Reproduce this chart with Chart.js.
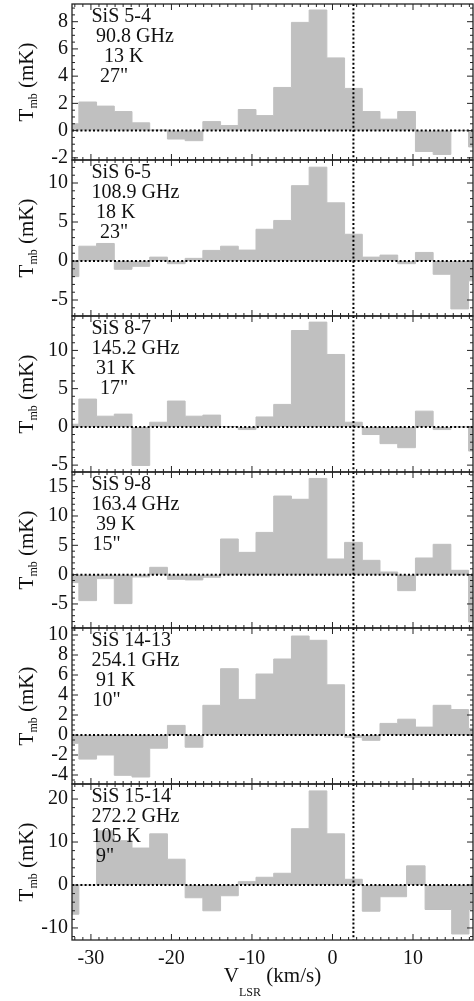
<!DOCTYPE html>
<html>
<head>
<meta charset="utf-8">
<title>SiS spectra</title>
<script src="https://cdn.jsdelivr.net/npm/chart.js@4.4.1/dist/chart.umd.min.js"></script>
<style>
    html, body { margin: 0; padding: 0; background: #fff; }
    #wrap { position: relative; width: 474px; height: 1001px; overflow: hidden; }
    #wrap canvas { position: absolute; left: 0; }
</style>
</head>
<body>
<div id="wrap"></div>
<script>
// channel edges (km/s), shared by the first five lines
const velEdges = [-33.7, -31.5, -29.3, -27.1, -24.9, -22.7, -20.5, -18.3, -16.1, -13.9, -11.7, -9.5, -7.3, -5.1, -2.9, -0.7, 1.5, 3.7, 5.9, 8.1, 10.3, 12.5, 14.7, 16.9, 19.1];
// SiS 15-14 grid is irregular on the red side
const velEdges15 = [-33.7, -31.5, -29.3, -27.1, -24.9, -22.7, -20.5, -18.3, -16.1, -13.9, -11.7, -9.5, -7.3, -5.1, -2.9, -0.7, 1.5, 3.7, 5.9, 9.2, 11.5, 14.8, 16.95, 17.25, 19.1];

// Tmb (mK) per channel
const tmb54 = [0.5, 2.1, 1.8, 1.4, 0.57, 0.05, -0.62, -0.74, 0.66, 0.37, 1.55, 1.1, 3.17, 7.95, 8.86, 5.34, 3.1, 1.4, 0.84, 1.4, -1.53, -1.75, 0.0, -1.2];
const tmb65 = [-2.0, 1.9, 2.25, -1.06, -0.68, 0.5, -0.34, 0.34, 1.36, 1.9, 1.4, 4.07, 5.2, 9.66, 12.03, 7.46, 3.43, 0.5, 0.76, -0.34, 1.1, -1.7, -6.14, -2.54];
const tmb87 = [0.35, 3.64, 1.4, 1.67, -5.04, 0.61, 3.38, 1.4, 1.54, 0.05, -0.35, 1.3, 2.94, 12.6, 13.7, 9.47, 0.61, -1.0, -2.19, -2.72, 2.06, -0.35, 0.0, -3.16];
const tmb98 = [-1.36, -4.43, -0.68, -4.94, -0.4, 1.25, -0.8, -0.9, -0.45, 6.08, 3.8, 7.2, 13.4, 12.85, 16.4, 2.67, 5.5, 2.44, 0.45, -2.73, 2.84, 5.17, 0.74, -8.07];
const tmb1413 = [-0.83, -2.41, -2.0, -4.03, -4.2, -1.32, 0.96, -1.22, 2.97, 6.63, 3.56, 6.1, 7.6, 9.9, 9.47, 5.02, -0.23, -0.53, 1.16, 1.58, 0.79, 2.97, 2.54, 0.66];
const tmb1514 = [-6.8, 0.0, 12.6, 10.3, 8.6, 11.9, 6.0, -2.97, -6.0, -2.5, 0.78, 1.8, 2.73, 13.1, 21.9, 11.9, 1.33, -6.1, -2.73, 4.45, -5.7, -11.4, -5.7, 2.1];

// axis ticks
const xTicks = [-30, -20, -10, 0, 10];
const yTicks54 = [-2, 0, 2, 4, 6, 8];
const yTicks65 = [-5, 0, 5, 10];
const yTicks87 = [-5, 0, 5, 10];
const yTicks98 = [-5, 0, 5, 10, 15];
const yTicks1413 = [-4, -2, 0, 2, 4, 6, 8, 10];
const yTicks1514 = [-10, 0, 10, 20];

// labels
const lab54 = ['SiS 5-4', '90.8 GHz', '13 K', '27"'];
const lab65 = ['SiS 6-5', '108.9 GHz', '18 K', '23"'];
const lab87 = ['SiS 8-7', '145.2 GHz', '31 K', '17"'];
const lab98 = ['SiS 9-8', '163.4 GHz', '39 K', '15"'];
const lab1413 = ['SiS 14-13', '254.1 GHz', '91 K', '10"'];
const lab1514 = ['SiS 15-14', '272.2 GHz', '105 K', '9"'];

const vSys = 2.6;
const xMin = -32.35, xMax = 17.45;

const FONT = "'Liberation Serif', 'DejaVu Serif', serif";
const GRAY = '#c0c0c0';
const INK = '#111';

const panels = [
    { edges: velEdges, vals: tmb54, ticks: yTicks54, labels: lab54, min: -2.16, max: 9.3, minor: 0.5, lx: [91.5, 96, 104, 100] },
    { edges: velEdges, vals: tmb65, ticks: yTicks65, labels: lab65, min: -7.05, max: 12.95, minor: 1, lx: [91.5, 91.5, 96, 100] },
    { edges: velEdges, vals: tmb87, ticks: yTicks87, labels: lab87, min: -5.9, max: 14.5, minor: 1, lx: [91.5, 91.5, 96, 100] },
    { edges: velEdges, vals: tmb98, ticks: yTicks98, labels: lab98, min: -9.1, max: 17.5, minor: 1, lx: [91.5, 91.5, 96, 92.5] },
    { edges: velEdges, vals: tmb1413, ticks: yTicks1413, labels: lab1413, min: -4.9, max: 10.7, minor: 0.5, lx: [91.5, 91.5, 96, 92.5] },
    { edges: velEdges15, vals: tmb1514, ticks: yTicks1514, labels: lab1514, min: -12.8, max: 23.5, minor: 2, lx: [91.5, 91.5, 91.5, 96] }
];

const PANEL_H = 156;
const TOP0 = 4;
const LEFT = 72;
const PAD = 12;   // canvases overlap so edge labels are not clipped

// frame, inward ticks, dotted guides, annotations
const framePlugin = {
    id: 'frame',
    afterDatasetsDraw(chart) {
        const p = chart.options.plugins.frame.panel;
        const { ctx, chartArea: a, scales: { x, y } } = chart;
        ctx.save();

        // dotted zero line + systemic velocity
        ctx.strokeStyle = '#000';
        ctx.lineWidth = 2;
        ctx.setLineDash([2, 2.2]);
        const y0 = y.getPixelForValue(0);
        ctx.beginPath(); ctx.moveTo(a.left, y0); ctx.lineTo(a.right, y0); ctx.stroke();
        const xs = x.getPixelForValue(vSys);
        ctx.beginPath(); ctx.moveTo(xs, a.top); ctx.lineTo(xs, a.bottom); ctx.stroke();
        ctx.setLineDash([]);

        // frame
        ctx.strokeStyle = '#222';
        ctx.lineWidth = 1.3;
        ctx.strokeRect(a.left, a.top, a.right - a.left, a.bottom - a.top);

        // x ticks (major + 1 km/s minor), top and bottom
        ctx.lineWidth = 1;
        ctx.beginPath();
        for (let v = Math.ceil(xMin); v <= xMax; v++) {
            const len = xTicks.includes(v) ? 6 : 3;
            const px = x.getPixelForValue(v);
            ctx.moveTo(px, a.top); ctx.lineTo(px, a.top + len);
            ctx.moveTo(px, a.bottom); ctx.lineTo(px, a.bottom - len);
        }
        // y ticks, left and right
        const n0 = Math.ceil(p.min / p.minor), n1 = Math.floor(p.max / p.minor);
        for (let k = n0; k <= n1; k++) {
            const v = k * p.minor;
            const len = p.ticks.some(t => Math.abs(t - v) < 1e-6) ? 6 : 3;
            const py = y.getPixelForValue(v);
            ctx.moveTo(a.left, py); ctx.lineTo(a.left + len, py);
            ctx.moveTo(a.right, py); ctx.lineTo(a.right - len, py);
        }
        ctx.stroke();

        // line annotation
        ctx.fillStyle = INK;
        ctx.font = '20px ' + FONT;
        ctx.textBaseline = 'middle';
        ctx.textAlign = 'left';
        const offs = [13, 32.5, 52.5, 72.5];
        p.labels.forEach((t, i) => ctx.fillText(t, p.lx[i], a.top + offs[i]));

        // y title: T_mb (mK)
        const cy = (a.top + a.bottom) / 2;
        ctx.translate(33, cy);
        ctx.rotate(-Math.PI / 2);
        ctx.textBaseline = 'alphabetic';
        ctx.font = '21px ' + FONT;
        const wT = ctx.measureText('T').width;
        const wR = ctx.measureText(' (mK)').width;
        ctx.font = '12px ' + FONT;
        const wS = ctx.measureText('mb').width;
        let tx = -(wT + wS + wR) / 2;
        ctx.font = '21px ' + FONT;
        ctx.fillText('T', tx, 0);
        tx += wT;
        ctx.font = '12px ' + FONT;
        ctx.fillText('mb', tx, 4);
        tx += wS;
        ctx.font = '21px ' + FONT;
        ctx.fillText(' (mK)', tx, 0);
        ctx.restore();

        // x title on the last panel
        if (chart.options.plugins.frame.last) {
            ctx.save();
            ctx.fillStyle = INK;
            ctx.textBaseline = 'alphabetic';
            ctx.font = '21px ' + FONT;
            const wV = ctx.measureText('V').width;
            const wU = ctx.measureText(' (km/s)').width;
            ctx.font = '12px ' + FONT;
            const wL = ctx.measureText('LSR').width;
            let sx = (a.left + a.right) / 2 - (wV + wL + wU) / 2;
            const by = a.bottom + 42;
            ctx.font = '21px ' + FONT;
            ctx.fillText('V', sx, by);
            sx += wV;
            ctx.font = '12px ' + FONT;
            ctx.fillText('LSR', sx, by + 14);
            sx += wL;
            ctx.font = '21px ' + FONT;
            ctx.fillText(' (km/s)', sx, by);
            ctx.restore();
        }
    }
};

const wrap = document.getElementById('wrap');

panels.forEach((p, i) => {
    const last = i === panels.length - 1;
    const top = TOP0 + i * PANEL_H;
    const canvas = document.createElement('canvas');
    const h = last ? 1001 - (top - PAD) : PANEL_H + 2 * PAD;
    canvas.width = 474;
    canvas.height = h;
    canvas.style.top = (top - PAD) + 'px';
    canvas.style.width = '474px';
    canvas.style.height = h + 'px';
    wrap.appendChild(canvas);

    // step histogram: each value holds from its left edge to the next
    const pts = p.vals.map((v, k) => ({ x: p.edges[k], y: v }));
    pts.push({ x: p.edges[p.vals.length], y: p.vals[p.vals.length - 1] });

    new Chart(canvas.getContext('2d'), {
        type: 'line',
        data: {
            datasets: [{
                data: pts,
                stepped: true,
                fill: 'origin',
                backgroundColor: GRAY,
                borderColor: GRAY,
                borderWidth: 1,
                pointRadius: 0
            }]
        },
        options: {
            responsive: false,
            animation: false,
            devicePixelRatio: 1,
            layout: { padding: { top: PAD, bottom: last ? 0 : PAD, left: 0, right: 1 } },
            plugins: {
                legend: { display: false },
                tooltip: { enabled: false },
                frame: { panel: p, last }
            },
            scales: {
                x: {
                    type: 'linear',
                    min: xMin, max: xMax,
                    display: last,
                    grid: { display: false, drawTicks: false },
                    border: { display: false },
                    afterBuildTicks: s => { s.ticks = xTicks.map(v => ({ value: v })); },
                    afterFit: s => {
                        s.height = last ? 61 : 0;
                        s.paddingLeft = 0; s.paddingRight = 0;
                    },
                    ticks: {
                        font: { family: FONT, size: 20 },
                        color: INK,
                        padding: 7,
                        maxRotation: 0,
                        autoSkip: false,
                        callback: v => String(v)
                    }
                },
                y: {
                    min: p.min, max: p.max,
                    grid: { display: false, drawTicks: false },
                    border: { display: false },
                    afterBuildTicks: s => { s.ticks = p.ticks.map(v => ({ value: v })); },
                    afterFit: s => {
                        s.width = LEFT;
                        s.paddingTop = 0; s.paddingBottom = 0;
                    },
                    ticks: {
                        font: { family: FONT, size: 20 },
                        color: INK,
                        padding: 4,
                        autoSkip: false,
                        callback: v => String(v)
                    }
                }
            }
        },
        plugins: [framePlugin]
    });
});
</script>
</body>
</html>
